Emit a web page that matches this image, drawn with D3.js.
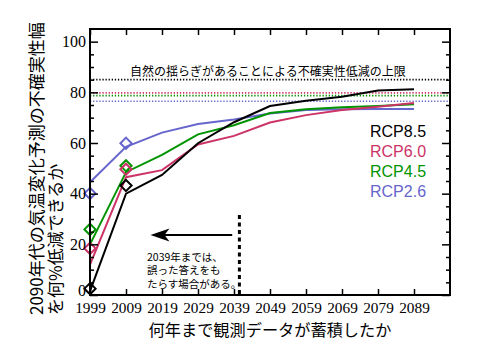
<!DOCTYPE html>
<html><head><meta charset="utf-8">
<script src="https://cdn.jsdelivr.net/npm/d3@7"></script>
<style>body{margin:0;background:#fff}svg{display:block}</style>
</head><body>
<svg id="c" width="480" height="360"></svg>
<script>
const years = [1999, 2009, 2019, 2029, 2039, 2049, 2059, 2069, 2079, 2089];
const seriesNames = ["RCP8.5", "RCP6.0", "RCP4.5", "RCP2.6"];
const colors = ["#000000", "#cc3366", "#009400", "#6666cc"];
const rcp85 = [1.5, 40, 47.4, 59.9, 68.2, 74.6, 76.7, 78.3, 80.7, 81.2];
const rcp60 = [12, 46.5, 49.3, 59.4, 62.8, 68.1, 71, 73, 74.3, 75.8];
const rcp45 = [20, 48.5, 55.3, 63.4, 67, 71.8, 73.3, 74.1, 74.6, 75.3];
const rcp26 = [44.5, 58.5, 64.1, 67.5, 69.3, 71.6, 73, 73.3, 73.4, 73.4];
const obsYears = [1999, 2009];
const obs85 = [2.5, 43.2];
const obs60 = [18.4, 49.6];
const obs45 = [25.9, 51];
const obs26 = [40.1, 59.9];
const limits = [85, 79.8, 78.7, 76.5];
const yMajor = [0, 20, 40, 60, 80, 100];
const yMinor = [5, 10, 15, 25, 30, 35, 45, 50, 55, 65, 70, 75, 85, 90, 95];
const limitText = "自然の揺らぎがあることによる不確実性低減の上限";
const noteLines = ["2039年までは、", "誤った答えをも", "たらす場合がある。"];
const xTitle = "何年まで観測データが蓄積したか";
const yTitle = ["2090年代の気温変化予測の不確実性幅", "を何%低減できるか"];

const lineData = [rcp85, rcp60, rcp45, rcp26];
const obsData = [obs85, obs60, obs45, obs26];

const L = 90, R = 450, T = 29, B = 295;
const svg = d3.select("#c");
const x = d3.scaleLinear().domain([1999, 2099]).range([L, R]);
const y = d3.scaleLinear().domain([0, 105]).range([B, T]);

limits.forEach((v, i) => {
  svg.append("line").attr("x1", L).attr("x2", R).attr("y1", y(v)).attr("y2", y(v))
    .attr("stroke", colors[i]).attr("stroke-width", 1.6).attr("stroke-dasharray", "1.3,1.8");
});

const line = d3.line().x((d, i) => x(years[i])).y(d => y(d));
[3, 2, 1, 0].forEach(i => {
  svg.append("path").datum(lineData[i]).attr("d", line)
    .attr("fill", "none").attr("stroke", colors[i]).attr("stroke-width", 2)
    .attr("stroke-linejoin", "miter");
});
const diamond = d3.symbol().type(d3.symbolDiamond2).size(80);
[3, 2, 1, 0].forEach(i => {
  obsData[i].forEach((v, j) => {
    svg.append("path").attr("d", diamond)
      .attr("transform", `translate(${x(obsYears[j])},${y(v)})`)
      .attr("fill", "none").attr("stroke", colors[i]).attr("stroke-width", 2);
  });
});

function styleAxis(g) { g.select(".domain").remove(); g.selectAll("line").attr("stroke", "#000").attr("stroke-width", 1.5); }
svg.append("g").attr("transform", `translate(${L},0)`)
  .call(d3.axisLeft(y).tickValues(yMajor).tickSize(-8).tickPadding(4))
  .call(styleAxis)
  .call(g => g.selectAll("text").attr("font-family", "'Liberation Serif', serif").attr("font-size", 16).attr("fill", "#000"))
  .call(g => g.selectAll(".tick").filter(d => d === 0).select("text").attr("y", -5));
svg.append("g").attr("transform", `translate(${L},0)`)
  .call(d3.axisLeft(y).tickValues(yMinor).tickSize(-4).tickFormat(""))
  .call(styleAxis);
svg.append("g").attr("transform", `translate(${R},0)`)
  .call(d3.axisRight(y).tickValues(yMajor).tickSize(-8).tickFormat(""))
  .call(styleAxis);
svg.append("g").attr("transform", `translate(${R},0)`)
  .call(d3.axisRight(y).tickValues(yMinor).tickSize(-4).tickFormat(""))
  .call(styleAxis);
svg.append("g").attr("transform", `translate(0,${B})`)
  .call(d3.axisBottom(x).tickValues(years).tickSize(-6).tickPadding(7.5).tickFormat(d3.format("d")))
  .call(styleAxis)
  .call(g => g.selectAll("text").attr("font-family", "'Liberation Serif', serif").attr("font-size", 15.3).attr("fill", "#000"));
svg.append("g").attr("transform", `translate(0,${T})`)
  .call(d3.axisTop(x).tickValues(years).tickSize(-6).tickFormat(""))
  .call(styleAxis);

svg.append("rect").attr("x", L).attr("y", T).attr("width", R - L).attr("height", B - T)
  .attr("fill", "none").attr("stroke", "#000").attr("stroke-width", 2);

svg.append("text").attr("x", 130).attr("y", 75.5).attr("font-family", "'Noto Sans CJK JP', sans-serif")
  .attr("font-size", 12).attr("fill", "#000").text(limitText);

seriesNames.forEach((n, i) => {
  svg.append("text").attr("x", 370).attr("y", 137 + i * 20)
    .attr("font-family", "'Liberation Sans', Arial, sans-serif").attr("font-size", 16)
    .attr("fill", colors[i]).text(n);
});

const ay = y(23.7);
svg.append("line").attr("x1", x(2038.5)).attr("x2", x(2019)).attr("y1", ay).attr("y2", ay)
  .attr("stroke", "#000").attr("stroke-width", 2);
const tip = x(2015.8);
svg.append("path").attr("d", `M${tip},${ay} L${tip + 19},${ay - 6.5} L${tip + 14},${ay} L${tip + 19},${ay + 6.5} Z`)
  .attr("fill", "#000");
svg.append("line").attr("x1", x(2040.5)).attr("x2", x(2040.5)).attr("y1", y(31.6)).attr("y2", y(0))
  .attr("stroke", "#000").attr("stroke-width", 3).attr("stroke-dasharray", "4,3.5");
noteLines.forEach((t, i) => {
  svg.append("text").attr("x", 147).attr("y", 260.5 + i * 13.5)
    .attr("font-family", "'Noto Sans CJK JP', sans-serif").attr("font-size", 10.5).attr("fill", "#000").text(t);
});

svg.append("text").attr("x", 270).attr("y", 335.5).attr("text-anchor", "middle")
  .attr("font-family", "'Noto Sans CJK JP', sans-serif").attr("font-size", 16.2).attr("fill", "#000").text(xTitle);
yTitle.forEach((t, i) => {
  svg.append("text").attr("transform", `translate(${43 + i * 18.5},315) rotate(-90)`)
    .attr("font-family", "'Noto Sans CJK JP', sans-serif").attr("font-size", 17).attr("fill", "#000").text(t);
});
</script>
</body></html>
